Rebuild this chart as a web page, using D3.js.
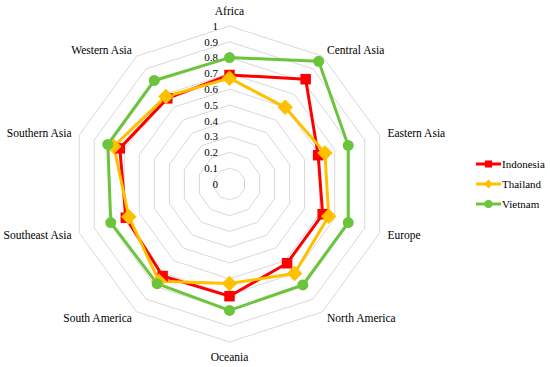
<!DOCTYPE html>
<html><head><meta charset="utf-8">
<script src="https://cdn.jsdelivr.net/npm/d3@7"></script>
<style>body{margin:0;background:#fff}svg{display:block}svg text{font-family:"Liberation Serif","Times New Roman",serif;font-size:11px;fill:#000}svg text.cat{font-size:11.5px}</style>
</head><body>
<script>
const categories = ["Africa","Central Asia","Eastern Asia","Europe","North America","Oceania","South America","Southeast Asia","Southern Asia","Western Asia"];
const indonesia = [0.69,0.82,0.59,0.62,0.62,0.71,0.72,0.69,0.73,0.67];
const thailand  = [0.67,0.60,0.635,0.66,0.70,0.63,0.76,0.67,0.77,0.685];
const vietnam   = [0.80,0.96,0.79,0.79,0.79,0.80,0.78,0.79,0.81,0.81];
const tickValues = [0,0.1,0.2,0.3,0.4,0.5,0.6,0.7,0.8,0.9,1];
const seriesNames = ["Indonesia","Thailand","Vietnam"];
const colors = ["#FF0000","#FFC000","#6CC43C"];

const W=550,H=367,cx=229.5,cy=184,R=158;
const svg=d3.select("body").append("svg").attr("width",W).attr("height",H);
const r=d3.scaleLinear().domain([0,1]).range([0,R]);
const ang=d3.scalePoint().domain(categories.concat(["_end"])).range([0,2*Math.PI]);
const pt=(c,v)=>{const a=ang(c);return [cx+r(v)*Math.sin(a), cy-r(v)*Math.cos(a)];};

const diamond={draw(ctx,size){const s=Math.sqrt(size/2);ctx.moveTo(0,-s);ctx.lineTo(s,0);ctx.lineTo(0,s);ctx.lineTo(-s,0);ctx.closePath();}};
const symbols = [d3.symbolSquare, diamond, d3.symbolCircle];

// grid
tickValues.filter(t=>t>0).forEach(t=>{
  svg.append("path").attr("d",d3.line()(categories.map(c=>pt(c,t)).concat([pt(categories[0],t)])))
    .attr("fill","none").attr("stroke","#d9d9d9").attr("stroke-width",1);
});
// tick labels
svg.selectAll(".tick").data(tickValues).enter().append("text")
  .attr("x",cx-11.5).attr("y",d=>cy-r(d)).attr("dy","0.35em").attr("text-anchor","end")
  .text(d=>d3.format("")(d));
// category labels
categories.forEach(c=>{
  const a=ang(c), s=Math.sin(a), co=-Math.cos(a);
  const vert=Math.abs(s)<0.1;
  const off=vert?15:8;
  const [x,y]=pt(c,1);
  svg.append("text").attr("class","cat").attr("x",x+off*s).attr("y",y+off*co).attr("dy","0.35em")
    .attr("text-anchor",vert?"middle":(s>0?"start":"end")).text(c);
});
// series
const data=[indonesia,thailand,vietnam];
data.forEach((vals,i)=>{
  const pts=categories.map((c,j)=>pt(c,vals[j]));
  svg.append("path").attr("d",d3.line()(pts.concat([pts[0]])))
    .attr("fill","none").attr("stroke",colors[i]).attr("stroke-width",3).attr("stroke-linejoin","round");
});
const sizes=[110,120,95];
data.forEach((vals,i)=>{
  svg.append("g").selectAll("path").data(categories).enter().append("path")
    .attr("transform",(c,j)=>`translate(${pt(c,vals[j])})`)
    .attr("d",d3.symbol().type(symbols[i]).size(sizes[i])).attr("fill",colors[i]);
});
// legend
const ly=d3.scalePoint().domain(seriesNames).range([164,204]);
seriesNames.forEach((n,i)=>{
  const y=ly(n);
  svg.append("line").attr("x1",476).attr("x2",501).attr("y1",y).attr("y2",y).attr("stroke",colors[i]).attr("stroke-width",3);
  svg.append("path").attr("transform",`translate(488.5,${y})`).attr("d",d3.symbol().type(symbols[i]).size(i==1?40:50)).attr("fill",colors[i]);
  svg.append("text").attr("x",502).attr("y",y).attr("dy","0.35em").text(n);
});
</script>
</body></html>
